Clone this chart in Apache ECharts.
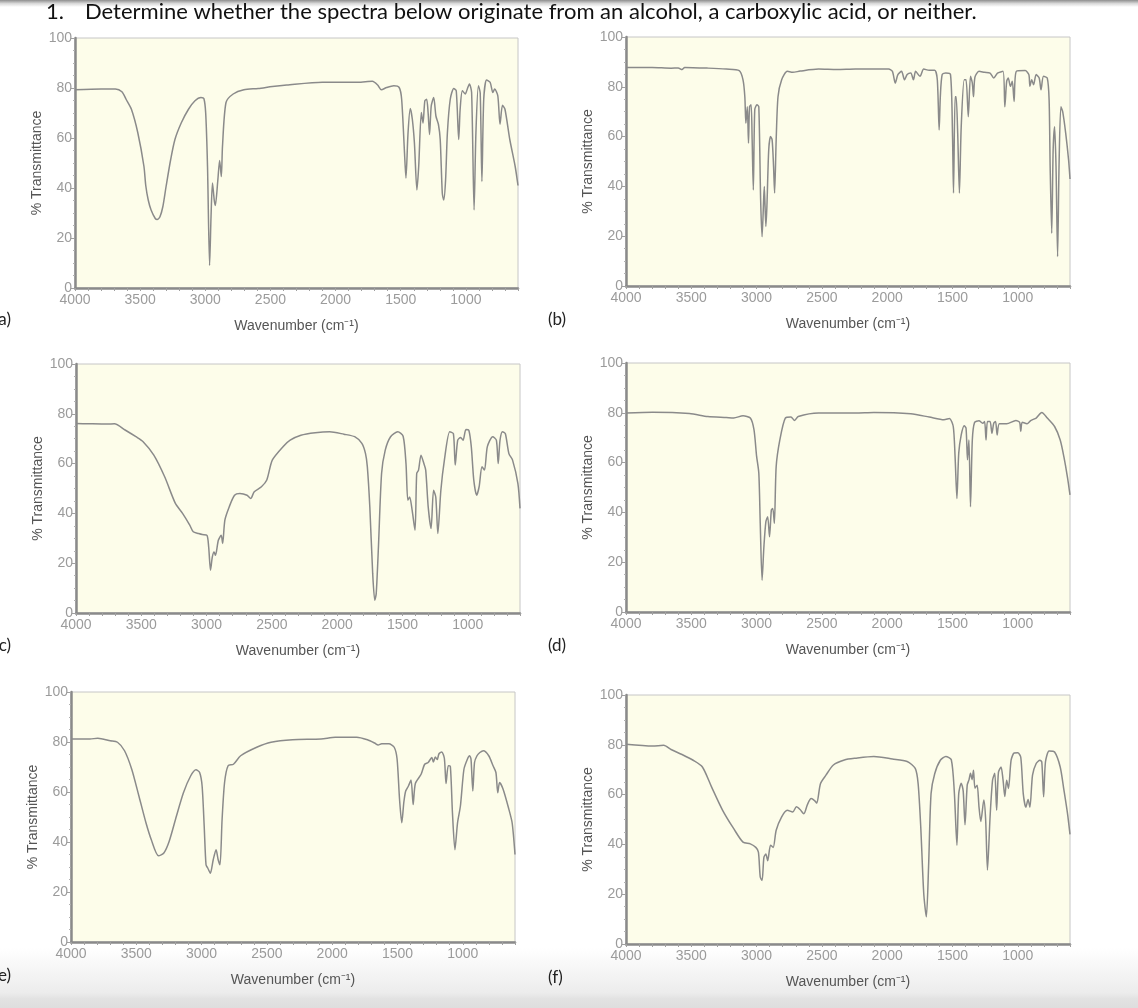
<!DOCTYPE html>
<html>
<head>
<meta charset="utf-8">
<script src="https://cdn.jsdelivr.net/npm/echarts@6/dist/echarts.min.js"></script>
<style>
html,body{margin:0;padding:0;background:#fff;}
#chart{width:1138px;height:1008px;}
</style>
</head>
<body>
<div id="chart"></div>
<script>
// ---- data: [wavenumber (cm-1), % transmittance] ----
const spectrumA = [[4000,79.3],[3800,79.6],[3690,79.6],[3640,78.5],[3608,75.5],[3567,71.5],[3518,62.1],[3471,48.7],[3457,41],[3438,35.2],[3416,31.2],[3384,27.8],[3370,27.4],[3348,28.5],[3326,32.5],[3301,40.6],[3266,51.3],[3233,59.4],[3184,66.1],[3129,71.5],[3079,74.9],[3033,76.2],[3011,75.8],[2997,70],[2983,48.7],[2967,9],[2956,28.5],[2945,42],[2931,35],[2923,33],[2904,43],[2890,51],[2877,44.6],[2868,56.7],[2841,74.2],[2786,77.6],[2704,79.3],[2594,79.8],[2485,80.6],[2375,81.2],[2101,82.3],[1827,82.3],[1718,82.7],[1677,81.2],[1649,79.3],[1608,80.2],[1553,80.9],[1512,80.2],[1493,75.5],[1471,54],[1460,44],[1444,62],[1427,71.8],[1411,67.5],[1395,58],[1376,39.2],[1362,48.7],[1342,70.2],[1329,66],[1315,74.9],[1301,75.5],[1290,70.2],[1279,61.4],[1266,72.8],[1247,76.2],[1230,68.8],[1211,65.5],[1197,59.4],[1181,37.9],[1170,35.2],[1156,43],[1142,62],[1120,75.5],[1093,79.8],[1074,78.9],[1055,59.4],[1044,71.5],[1027,78.9],[1005,77.6],[989,79.6],[973,81.6],[956,78.2],[937,31.2],[923,62],[904,80.9],[890,78],[877,42.6],[863,75.5],[841,83.2],[814,82.3],[793,78.2],[779,79.6],[755,76.9],[738,65.5],[719,73.1],[700,71.5],[663,59.4],[622,48.7],[600,41]];
const spectrumB = [[4000,87.8],[3800,87.8],[3655,87.5],[3600,87.6],[3571,86.9],[3550,87.8],[3373,87.5],[3232,87.1],[3133,86.5],[3104,82.8],[3090,76],[3082,65.4],[3071,72],[3062,57.4],[3054,72],[3042,72.8],[3034,58.7],[3025,38.6],[3014,70.8],[2997,72.8],[2983,72],[2969,34.6],[2958,19.8],[2946,34.6],[2941,40],[2929,23.9],[2921,31.9],[2907,54.7],[2893,60],[2881,58.7],[2870,48],[2862,37.3],[2850,58.7],[2836,76],[2808,82.8],[2765,86.2],[2723,85.8],[2667,86.3],[2525,87.1],[2384,86.9],[2243,87.1],[1989,87.1],[1960,86.2],[1938,81.5],[1918,84.9],[1890,86.2],[1867,82.8],[1847,84.9],[1819,85.5],[1799,82.8],[1782,86.2],[1749,84.2],[1720,87.1],[1678,86.6],[1636,86.6],[1616,82.8],[1602,62.7],[1593,76],[1579,84.9],[1551,85.5],[1515,84.9],[1500,61.4],[1492,37.3],[1480,76],[1472,76],[1460,61.4],[1447,37.3],[1433,64],[1410,82.8],[1396,82.8],[1379,68],[1362,84.2],[1348,81.5],[1339,76],[1328,83.9],[1297,86.2],[1254,85.8],[1212,85.5],[1184,83.5],[1155,85.5],[1113,86.2],[1099,72],[1085,82.2],[1073,83.5],[1056,80.2],[1042,82.2],[1028,74.1],[1011,86.2],[943,86.5],[915,84.9],[907,80.2],[893,82.8],[879,80.8],[859,84.9],[836,83.5],[822,78.8],[803,84.2],[774,83.5],[760,74.8],[752,48],[740,21.2],[729,54.7],[718,64],[707,48],[695,11.8],[684,48],[670,72],[656,70],[633,61.4],[611,50.7],[600,43]];
const spectrumC = [[4000,76.1],[3900,76],[3761,75.9],[3706,76],[3624,73.5],[3541,70.8],[3486,68.8],[3404,63.4],[3321,54.7],[3239,44],[3184,40],[3129,35.3],[3102,32.6],[3061,31.9],[3033,31.5],[2997,31.2],[2984,26.5],[2970,17.2],[2956,22.5],[2943,24.5],[2932,23.2],[2910,29.2],[2888,31.2],[2877,27.9],[2860,37.3],[2827,42.6],[2786,47.3],[2745,48],[2690,47.3],[2662,46],[2635,48.7],[2580,50.7],[2539,53.4],[2497,61.4],[2415,66.8],[2360,69.4],[2278,71.4],[2168,72.4],[2058,72.8],[1948,71.8],[1866,70.8],[1811,68.1],[1783,64],[1769,58.7],[1750,42.6],[1728,15.8],[1712,5.1],[1701,7.8],[1684,26.5],[1660,56],[1632,65.4],[1591,70.8],[1536,72.8],[1495,71],[1473,60],[1459,45.3],[1445,46.6],[1426,41.3],[1404,33.2],[1391,56],[1377,57.4],[1358,63.4],[1336,60],[1322,57.4],[1303,42.6],[1281,33.9],[1262,49.3],[1245,46.6],[1229,31.9],[1206,49.3],[1179,61.4],[1138,72.8],[1110,72],[1096,59.4],[1077,69.4],[1055,70.5],[1036,69.4],[1014,73.7],[992,73.4],[973,66.8],[954,53.4],[932,47.3],[913,50.7],[891,58.7],[872,57.4],[850,66.8],[809,70.8],[781,69.4],[767,60],[753,69.4],[734,72.8],[712,72],[685,64],[657,61.4],[616,52],[600,42]];
const spectrumD = [[4000,79.9],[3797,80.2],[3514,79.7],[3373,78.5],[3232,78.1],[3175,77.9],[3104,78.8],[3048,77.9],[3020,73.2],[3000,62.6],[2983,55.8],[2972,35.6],[2958,12.8],[2944,26.2],[2929,36.2],[2915,38.3],[2901,30.2],[2887,40.9],[2876,41.6],[2864,35.6],[2850,58.4],[2822,69.1],[2780,77.9],[2737,78.3],[2709,76.9],[2681,78.5],[2525,79.9],[2243,79.9],[2102,80.1],[1819,79.6],[1678,78.3],[1565,77.2],[1523,77.7],[1494,74.5],[1480,62.4],[1466,45.6],[1452,63.8],[1433,71.1],[1410,74.8],[1396,73.8],[1385,61.1],[1374,69.1],[1362,42.3],[1348,69.1],[1331,76.1],[1297,76.8],[1269,75.8],[1254,76.5],[1243,69.1],[1232,76.5],[1212,76.5],[1198,71.8],[1184,75.8],[1170,76.5],[1158,71.1],[1141,75.6],[1085,75.6],[1014,76.9],[986,76.2],[977,72.5],[966,76.2],[929,75.6],[901,76.9],[859,77.9],[816,80.1],[774,77.9],[718,74.5],[675,69.1],[647,62.4],[619,54],[600,47]];
const spectrumE = [[4000,81.2],[3855,81.2],[3795,81.5],[3699,80.5],[3644,79.9],[3590,76.5],[3535,69.1],[3480,58.4],[3426,47.7],[3385,40.9],[3330,34.5],[3289,35.6],[3248,40.3],[3193,50.3],[3139,59.7],[3084,66.4],[3043,68.9],[3015,67.8],[2996,62.4],[2980,46.3],[2966,30.9],[2952,29.5],[2933,27.5],[2911,32.9],[2889,36.9],[2873,32.9],[2859,30.9],[2843,49],[2824,63.8],[2797,70.5],[2756,71.1],[2701,74.5],[2578,77.9],[2468,79.9],[2304,80.9],[2085,81.2],[1976,81.9],[1812,81.9],[1730,80.9],[1675,79.6],[1648,78.8],[1621,79.3],[1566,79.3],[1525,77.9],[1503,73.2],[1484,57],[1467,47.7],[1451,56],[1437,60.4],[1416,62.4],[1396,64.8],[1380,55],[1363,63.4],[1319,67.1],[1292,71.1],[1265,71.8],[1237,73.8],[1225,72],[1210,74],[1195,73],[1183,75.2],[1161,76],[1141,73.5],[1128,63.4],[1111,70.5],[1095,70.2],[1079,51.7],[1060,36.9],[1040,47.7],[1018,54.4],[991,69.1],[964,73.2],[948,74.5],[937,73.2],[923,60.4],[910,71.8],[891,74.5],[869,75.8],[842,76.5],[801,74.5],[768,70.5],[746,67.8],[732,59.7],[718,63.8],[691,61.1],[650,53.7],[622,47.7],[600,35]];
const spectrumF = [[4000,80.2],[3797,79.5],[3712,79.8],[3655,78.1],[3571,76.1],[3486,73.8],[3415,71.1],[3345,63.1],[3260,53.7],[3175,46.3],[3104,40.9],[3048,40.2],[3006,38.8],[2986,36.9],[2972,26.9],[2958,25.5],[2944,34.8],[2929,36.1],[2915,33.4],[2893,39.7],[2873,38.8],[2850,45.7],[2808,51.1],[2765,53.7],[2723,53],[2695,55.1],[2667,54],[2638,52.3],[2610,56.1],[2582,58.4],[2554,57.5],[2539,56.6],[2511,64.4],[2469,67.8],[2412,71.9],[2328,73.9],[2243,74.6],[2102,75.3],[1960,74.3],[1847,73.3],[1785,70.5],[1763,64.4],[1743,47.1],[1720,20.3],[1700,10.9],[1683,31],[1664,60.4],[1636,68.4],[1593,73.8],[1551,75.3],[1509,74],[1486,61.2],[1466,39.7],[1452,60.4],[1433,64.6],[1418,61.5],[1404,47.9],[1387,63.9],[1373,66],[1362,68.6],[1350,66],[1339,69.8],[1328,62.6],[1311,63.8],[1297,55.1],[1283,49.2],[1260,57.8],[1246,50],[1232,29.7],[1212,51.1],[1193,65.8],[1176,68.6],[1162,53.7],[1148,68.9],[1128,71.1],[1113,66],[1099,59.2],[1085,65.8],[1071,62.5],[1051,73.8],[1028,76.7],[1000,76.8],[977,75],[958,60.4],[938,54.9],[921,58],[907,54.9],[887,67.8],[859,72.5],[830,73.8],[816,73.1],[802,59.1],[788,73.1],[760,77.5],[718,77.1],[675,71.1],[647,62],[619,52.4],[600,44]];

const spectra = [spectrumA, spectrumB, spectrumC, spectrumD, spectrumE, spectrumF];
const panelLabels = ['(a)', '(b)', '(c)', '(d)', '(e)', '(f)'];
const titleNumber = '1.';
const titleText = 'Determine whether the spectra below originate from an alcohol, a carboxylic acid, or neither.';
const xAxisTitle = 'Wavenumber (cm\u207B\u00B9)';
const yAxisTitle = '% Transmittance';
const xMin = 600, xMax = 4000, xStep = 100, xLabelStep = 500;
const yMin = 0, yMax = 100, yStep = 20;

// ---- layout ----
const gridBoxes = [
  {left: 75, top: 38, width: 443, height: 250},
  {left: 626, top: 37, width: 444, height: 249},
  {left: 76, top: 364, width: 444, height: 249},
  {left: 626, top: 363, width: 444, height: 249},
  {left: 71, top: 692, width: 444, height: 250},
  {left: 626, top: 695, width: 444, height: 249}
];
const labelPos = [
  {x: 11, y: 320, align: 'right'},
  {x: 548, y: 320, align: 'left'},
  {x: 11, y: 646, align: 'right'},
  {x: 548, y: 646, align: 'left'},
  {x: 11, y: 976, align: 'right'},
  {x: 548, y: 978, align: 'left'}
];

const lineColor = '#8a8a8a';
const axisColor = '#8a8a8a';
const tickLabelColor = '#9b9b9b';
const nameColor = '#555555';
const font = 'Liberation Sans, Arial, sans-serif';

const grids = gridBoxes.map(b => Object.assign({
  show: true, backgroundColor: '#fdfdea', borderColor: '#c6c6c6', borderWidth: 1, containLabel: false
}, b));

const xAxes = gridBoxes.map((b, i) => ({
  type: 'value', gridIndex: i, inverse: true, min: xMin, max: xMax, interval: xStep,
  name: xAxisTitle, nameLocation: 'middle', nameGap: 31,
  nameTextStyle: {color: nameColor, fontSize: 14, fontFamily: font},
  axisLine: {show: true, onZero: false, lineStyle: {color: axisColor, width: 2.5}},
  axisTick: {show: true, length: 3, lineStyle: {color: '#a0a0a0', width: 1}},
  axisLabel: {color: tickLabelColor, fontSize: 14, fontFamily: font, margin: 5,
    formatter: v => (v % xLabelStep === 0 ? String(v) : '')},
  splitLine: {show: false}
}));

const yAxes = gridBoxes.map((b, i) => ({
  type: 'value', gridIndex: i, min: yMin, max: yMax, interval: yStep,
  name: yAxisTitle, nameLocation: 'middle', nameGap: 31, nameRotate: 90,
  nameTextStyle: {color: nameColor, fontSize: 14, fontFamily: font},
  axisLine: {show: true, lineStyle: {color: axisColor, width: 2.5}},
  axisTick: {show: true, length: 4, lineStyle: {color: '#a0a0a0', width: 1}},
  minorTick: {show: true, splitNumber: 4, length: 2, lineStyle: {color: '#b0b0b0', width: 1}},
  axisLabel: {color: tickLabelColor, fontSize: 14, fontFamily: font, margin: 3},
  splitLine: {show: false}
}));

const series = spectra.map((d, i) => ({
  type: 'line', xAxisIndex: i, yAxisIndex: i, data: d,
  showSymbol: false, symbol: 'none', smooth: 0.25,
  lineStyle: {color: lineColor, width: 1.5}, silent: true, z: 3
}));

const graphics = [
  {type: 'rect', shape: {x: 0, y: 0, width: 1138, height: 7}, silent: true,
   style: {fill: new echarts.graphic.LinearGradient(0, 0, 0, 1, [
     {offset: 0, color: '#8e8e8e'}, {offset: 0.5, color: '#d8d8d8'}, {offset: 1, color: '#ffffff'}])}},
  {type: 'rect', shape: {x: 0, y: 948, width: 1138, height: 60}, silent: true, z: -1,
   style: {fill: new echarts.graphic.LinearGradient(0, 0, 0, 1, [
     {offset: 0, color: '#ffffff'}, {offset: 0.75, color: '#ececec'}, {offset: 0.85, color: '#e2e2e2'}, {offset: 1, color: '#dedede'}])}},
  {type: 'text', x: 46, y: 12, style: {text: titleNumber, fill: '#111', font: '22px Lato, sans-serif', textVerticalAlign: 'middle'}},
  {type: 'text', x: 85, y: 12, style: {text: titleText, fill: '#111', font: '22px Lato, sans-serif', textVerticalAlign: 'middle'}}
].concat(panelLabels.map((t, i) => ({
  type: 'text', x: labelPos[i].x, y: labelPos[i].y,
  style: {text: t, fill: '#222', font: '17px Lato, sans-serif', textAlign: labelPos[i].align, textVerticalAlign: 'middle'}
})));

const chart = echarts.init(document.getElementById('chart'), null, {renderer: 'canvas'});
chart.setOption({
  animation: false,
  backgroundColor: '#ffffff',
  grid: grids,
  xAxis: xAxes,
  yAxis: yAxes,
  series: series,
  graphic: graphics
});
</script>
</body>
</html>
